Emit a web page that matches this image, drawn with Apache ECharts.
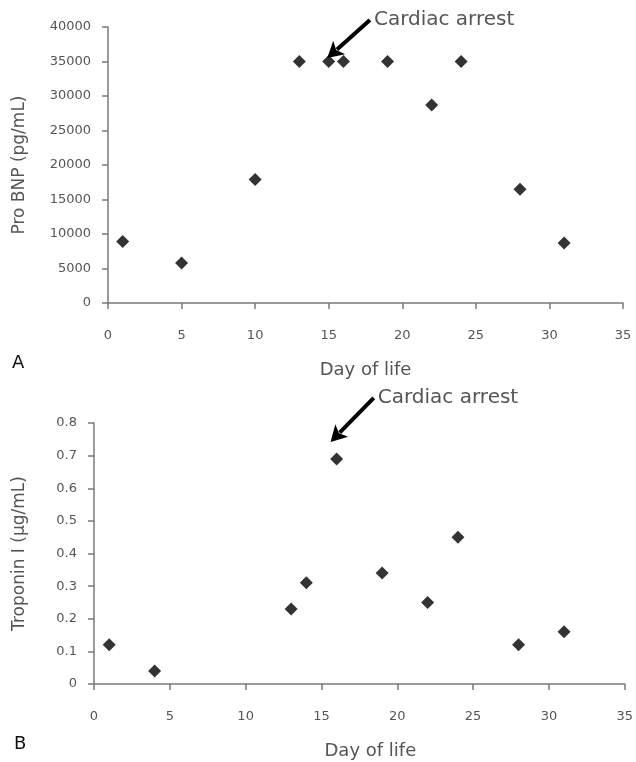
<!DOCTYPE html>
<html>
<head>
<meta charset="utf-8">
<script src="https://cdn.jsdelivr.net/npm/echarts@6/dist/echarts.min.js"></script>
<style>
html,body{margin:0;padding:0;background:#fff;}
#c{width:636px;height:762px;}
</style>
</head>
<body>
<div id="c"></div>
<script>
// ---- Data ----
var proBnpDays = [1, 5, 10, 13, 15, 16, 19, 22, 24, 28, 31];
var proBnpValues = [8900, 5800, 17900, 35000, 35000, 35000, 35000, 28700, 35000, 16500, 8700];
var tropDays = [1, 4, 13, 14, 16, 19, 22, 24, 28, 31];
var tropValues = [0.12, 0.04, 0.23, 0.31, 0.69, 0.34, 0.25, 0.45, 0.12, 0.16];
var xTicks = [0, 5, 10, 15, 20, 25, 30, 35];
var proTicks = [0, 5000, 10000, 15000, 20000, 25000, 30000, 35000, 40000];
var tropTicks = [0, 0.1, 0.2, 0.3, 0.4, 0.5, 0.6, 0.7, 0.8];
// annotation anchors in data coordinates: [tailX, tailY, tipX, tipY]
var arrowA = [17.8, 41000, 14.9, 35500];
var arrowB = [18.45, 0.877, 15.6, 0.742];
var annText = 'Cardiac arrest';

var FONT = 'DejaVu Sans';
var TXT = '#555';
var AX = '#7a7a7a';

function pairs(xs, ys) { return xs.map(function (x, i) { return [x, ys[i]]; }); }

function xAxisCfg(gridIndex, padLeft) {
  return {
    type: 'value', gridIndex: gridIndex,
    min: xTicks[0], max: xTicks[xTicks.length - 1], interval: xTicks[1] - xTicks[0],
    name: 'Day of life', nameLocation: 'middle', nameGap: 58,
    nameTextStyle: { fontFamily: FONT, fontSize: 18, color: TXT, padding: [0, 0, 0, padLeft] },
    axisLine: { show: true, onZero: false, lineStyle: { color: AX, width: 1.5 } },
    axisTick: { show: true, inside: false, length: 6, lineStyle: { color: AX, width: 1.5 } },
    axisLabel: { fontFamily: FONT, fontSize: 13, color: TXT, margin: 26 },
    splitLine: { show: false }
  };
}
function yAxisCfg(gridIndex, ticks, name, gap, fmt) {
  return {
    type: 'value', gridIndex: gridIndex,
    min: ticks[0], max: ticks[ticks.length - 1], interval: ticks[1] - ticks[0],
    name: name, nameLocation: 'middle', nameGap: gap, nameRotate: 90,
    nameTextStyle: { fontFamily: FONT, fontSize: 17, color: TXT },
    axisLine: { show: true, lineStyle: { color: AX, width: 1.5 } },
    axisTick: { show: true, inside: false, length: 6, lineStyle: { color: AX, width: 1.5 } },
    axisLabel: { fontFamily: FONT, fontSize: 13, color: TXT, margin: 17, formatter: fmt },
    splitLine: { show: false }
  };
}

var chart = echarts.init(document.getElementById('c'), null, { renderer: 'canvas' });
var option = {
  animation: false,
  backgroundColor: '#fff',
  grid: [
    { left: 108, top: 27, width: 515, height: 276 },
    { left: 94, top: 423, width: 531, height: 261 }
  ],
  xAxis: [xAxisCfg(0, 0), xAxisCfg(1, 22)],
  yAxis: [
    yAxisCfg(0, proTicks, 'Pro BNP (pg/mL)', 80, function (v) { return String(v); }),
    yAxisCfg(1, tropTicks, 'Troponin I (\u03bcg/mL)', 66, function (v) { return v === 0 ? '0' : v.toFixed(1); })
  ],
  series: [
    { type: 'scatter', xAxisIndex: 0, yAxisIndex: 0, symbol: 'diamond', symbolSize: 13,
      itemStyle: { color: '#000' }, data: pairs(proBnpDays, proBnpValues) },
    { type: 'scatter', xAxisIndex: 1, yAxisIndex: 1, symbol: 'diamond', symbolSize: 13,
      itemStyle: { color: '#000' }, data: pairs(tropDays, tropValues) }
  ]
};
chart.setOption(option);

function arrowGraphics(a, gridIndex) {
  var t = chart.convertToPixel({ gridIndex: gridIndex }, [a[0], a[1]]);
  var p = chart.convertToPixel({ gridIndex: gridIndex }, [a[2], a[3]]);
  var dx = p[0] - t[0], dy = p[1] - t[1];
  var len = Math.sqrt(dx * dx + dy * dy);
  var ux = dx / len, uy = dy / len;
  var hl = 16, hw = 9;
  var bx = p[0] - ux * hl, by = p[1] - uy * hl;
  var nx = -uy, ny = ux;
  return [
    { type: 'line', shape: { x1: t[0], y1: t[1], x2: bx + ux * 3, y2: by + uy * 3 },
      style: { stroke: '#000', lineWidth: 4 } },
    { type: 'polygon', shape: { points: [[p[0], p[1]], [bx + nx * hw, by + ny * hw], [bx + ux * 4, by + uy * 4], [bx - nx * hw, by - ny * hw]] },
      style: { fill: '#000' } },
    { type: 'text', x: t[0] + 4, y: t[1], style: { text: annText, fontFamily: FONT, fontSize: 20,
      fill: TXT, textVerticalAlign: 'middle', verticalAlign: 'middle' } }
  ];
}

var g = [].concat(arrowGraphics(arrowA, 0), arrowGraphics(arrowB, 1));
g.push({ type: 'text', x: 12, y: 363, style: { text: 'A', fontFamily: FONT, fontSize: 18, fill: '#111', verticalAlign: 'middle', textVerticalAlign: 'middle' } });
g.push({ type: 'text', x: 14, y: 744, style: { text: 'B', fontFamily: FONT, fontSize: 18, fill: '#111', verticalAlign: 'middle', textVerticalAlign: 'middle' } });
chart.setOption({ graphic: { elements: g } });
</script>
</body>
</html>
